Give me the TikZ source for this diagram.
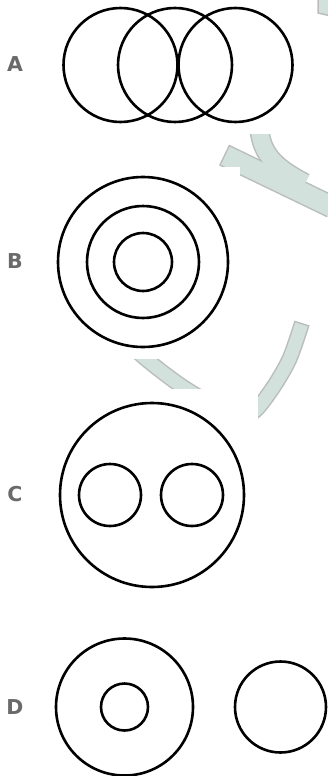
\documentclass[tikz,border=0pt]{standalone}
\usepackage{fontspec}
\newfontfamily\optfont{DejaVu Sans}
\usetikzlibrary{positioning}
\definecolor{labgray}{HTML}{6A6A6A}
\definecolor{wmfill}{HTML}{D3E1DC}
\definecolor{wmedge}{HTML}{B9BEBC}
\tikzset{
  ring/.style={draw=black,line width=2.6pt},
  optlab/.style={font=\fontsize{20.5}{24}\optfont\bfseries\selectfont,text=labgray,inner sep=0pt},
  % --- faint watermark strokes behind the figures ---
  wmrim/.style={draw=wmedge,line width=#1},
  wmband/.style={draw=wmfill,line width=#1},
  wmpatch/.style={fill=wmfill,draw=wmedge,line width=1.5pt},
  blank/.style={fill=white},
}
\begin{document}
\begin{tikzpicture}[x=1pt,y=-1pt]
  \useasboundingbox (0,0) rectangle (328,776);
  % watermark
  \draw[wmrim=23pt] (224,155) -- (332,207);
  \draw[wmrim=20pt] (259,126) .. controls (261,152) and (272,166) .. (305,183);
  \draw[wmrim=16pt] plot[smooth] coordinates {(118,333) (146,359) (183,387) (222,409) (250,414) (270,392) (289,360) (302,323)};
  \draw[wmband=20pt,shorten <=1.5pt] (224,155) -- (332,207);
  \draw[wmband=17pt] (259,126) .. controls (261,152) and (272,166) .. (305,183);
  \draw[wmband=13pt,shorten >=1.5pt] plot[smooth] coordinates {(118,333) (146,359) (183,387) (222,409) (250,414) (270,392) (289,360) (302,323)};
  \fill[wmfill] (250,120) rectangle (270,134);
  \filldraw[wmpatch] (318,-2) -- (318,13) -- (331,16) -- (331,-2);
  \fill[blank] (242,100) rectangle (316,134);
  \fill[blank] (0,167) rectangle (240,359);
  \fill[blank] (0,389) rectangle (258,620);
  % A
  \foreach \cx in {120.5,175,235.5} \draw[ring] (\cx,65) circle (57pt);
  % B
  \foreach \r in {85,56,29} \draw[ring] (143,262) circle (\r pt);
  % C
  \draw[ring] (152,495) circle (92pt);
  \foreach \cx in {110,192} \draw[ring] (\cx,495) circle (31pt);
  % D
  \draw[ring] (124.5,707) circle (68.5pt);
  \draw[ring] (124.5,707) circle (23.5pt);
  \draw[ring] (280.5,707) circle (45.5pt);
  % option letters
  \foreach \t/\yy in {A/64,B/261,C/494,D/707} \node[optlab] (lab\t) at (15,\yy) {\t};
\end{tikzpicture}
\end{document}
